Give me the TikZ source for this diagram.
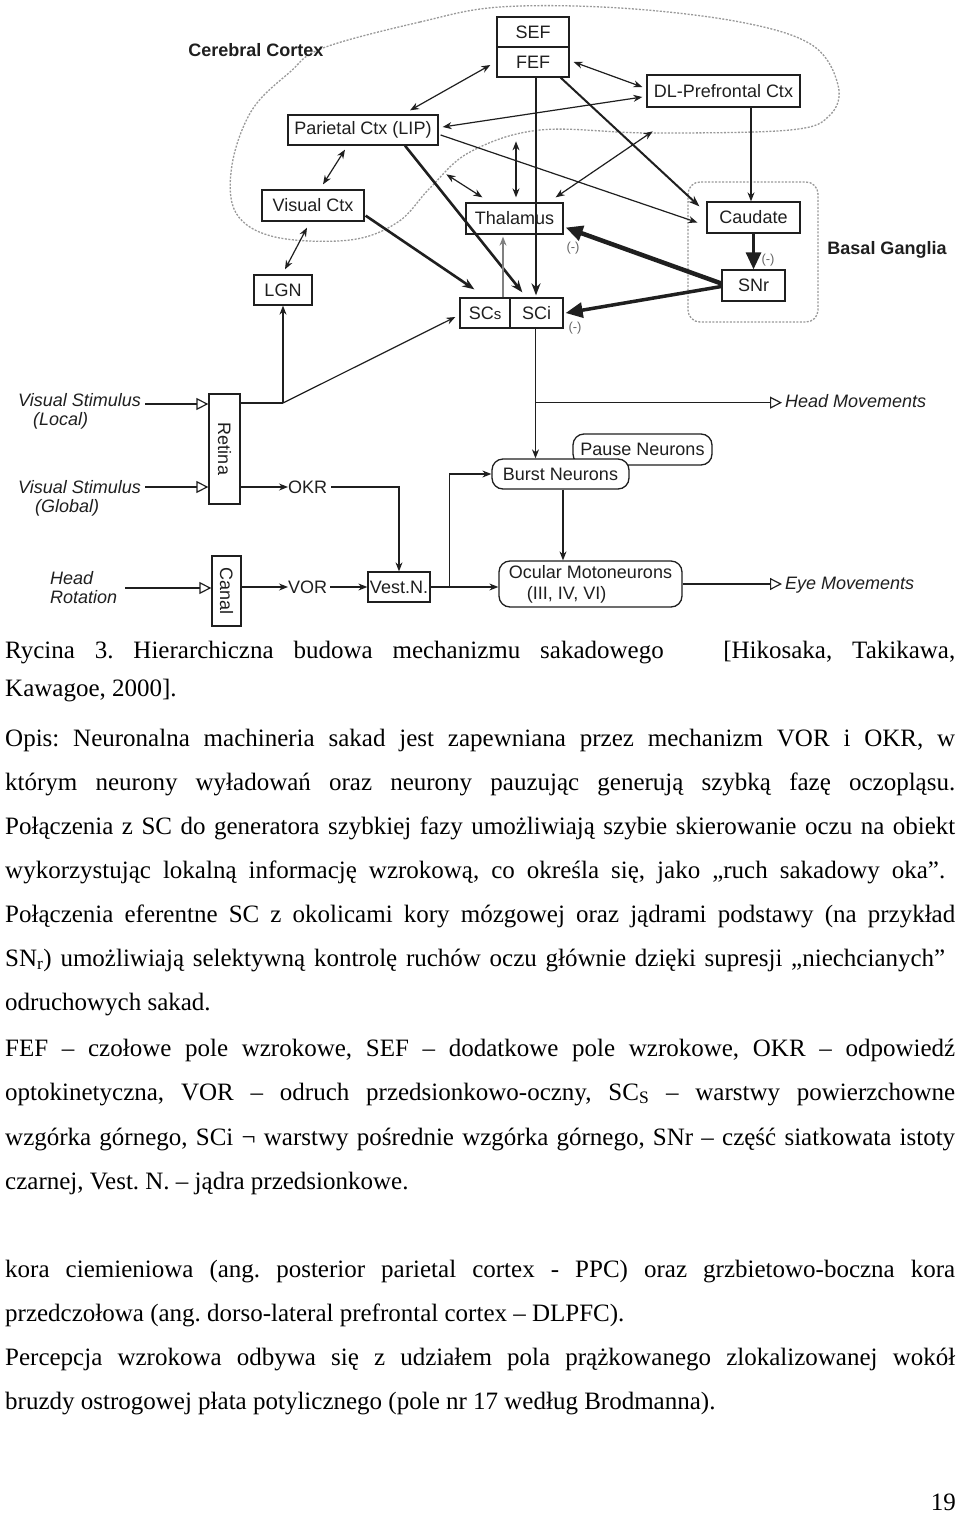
\documentclass[tikz,border=0pt]{standalone}
\usepackage{fontspec}
\setmainfont{Liberation Serif}
\newfontfamily\dfont{Liberation Sans}
\usetikzlibrary{arrows.meta,calc}
\definecolor{ink}{gray}{0.12}
\frenchspacing
\tikzset{
 box/.style={draw=ink, line width=1.3pt, fill=white, inner sep=0pt, font=\dfont\fontsize{18}{21}\selectfont, text=ink},
 rbox/.style={box, rounded corners=11pt},
 lbl/.style={font=\dfont\fontsize{18}{21}\selectfont, text=ink, inner sep=0pt},
 boldlbl/.style={font=\dfont\bfseries\fontsize{18}{21}\selectfont, text=ink, inner sep=0pt},
 ital/.style={font=\dfont\itshape\fontsize{18}{21}\selectfont, text=ink, inner sep=0pt, anchor=base west},
 minus/.style={font=\dfont\fontsize{13}{15}\selectfont, text=black!60, inner sep=0pt},
 ln/.style={draw=ink, line width=1.2pt},
 arr/.style={ln, -{Stealth[length=9pt,width=7pt]}},
 darr/.style={ln, {Stealth[length=9pt,width=7pt]}-{Stealth[length=9pt,width=7pt]}},
 tarr/.style={draw=ink, line width=2.6pt, -{Stealth[length=12pt,width=9pt]}},
 inh/.style={draw=ink, line width=#1, -{Triangle[length=17pt,width=15pt]}},
 inh/.default=4pt,
 oarr/.style={ln, -{Triangle[open,length=12pt,width=12pt,line width=1.2pt]}},
 dashline/.style={draw=black!40, line width=1.3pt, dash pattern=on 2pt off 1.5pt},
 txt/.style={font=\fontsize{25}{30}\selectfont, inner sep=0pt, anchor=base west, text=black},
}
\newcommand\jline[3]{\node[txt] (#1) at (5,#2) {\makebox[950pt][s]{#3}};}
\newcommand\lline[3]{\node[txt] (#1) at (5,#2) {#3};}
\begin{document}
\begin{tikzpicture}[x=1pt,y=-1pt]
\useasboundingbox[fill=white] (0,0) rectangle (960,1515);

% cortex outline
\draw[dashline] plot[smooth cycle, tension=0.6] coordinates {(323,48) (420,22) (500,7) (620,8) (740,22) (812,45) (838,85) (830,115) (790,130) (650,133) (540,130) (470,152) (430,188) (398,222) (350,240) (275,237) (236,213) (232,165) (252,110) (290,72)};
% basal ganglia outline
\draw[dashline, rounded corners=12pt] (688,182) rectangle (818,322);

% nodes
\node[box, minimum width=72pt, minimum height=30pt] (sef) at (533,32) {SEF};
\node[box, minimum width=72pt, minimum height=30pt] (fef) at (533,62) {FEF};
\node[box, minimum width=153pt, minimum height=32pt] (dlpfc) at (723.5,91) {DL-Prefrontal Ctx};
\node[box, minimum width=150pt, minimum height=30pt] (lip) at (363,130) {Parietal Ctx (LIP)};
\node[box, minimum width=102pt, minimum height=31pt] (vis) at (313,205.5) {Visual Ctx};
\node[box, minimum width=58pt, minimum height=30pt] (lgn) at (283,290) {LGN};
\node[box, minimum width=97pt, minimum height=31pt] (thal) at (514.5,218.5) {Thalamus};
\node[box, minimum width=93pt, minimum height=31pt] (caud) at (753.5,217.5) {Caudate};
\node[box, minimum width=63pt, minimum height=31pt] (snr) at (753.5,285.5) {SNr};
\node[box, minimum width=50pt, minimum height=30pt] (scs) at (485,313) {SC{\fontsize{15}{15}\selectfont s}};
\node[box, minimum width=53pt, minimum height=30pt] (sci) at (536.5,313) {SCi};
\node[box, minimum width=31pt, minimum height=110pt] (retina) at (224.5,449) {};
\node[lbl, rotate=-90] (retinat) at (retina.center) {Retina};
\node[box, minimum width=29pt, minimum height=70pt] (canal) at (226.5,591) {};
\node[lbl, rotate=-90] (canalt) at (canal.center) {Canal};
\node[lbl, anchor=west] (okr) at (288,487) {OKR};
\node[lbl, anchor=west] (vor) at (288,587) {VOR};
\node[box, minimum width=62pt, minimum height=30pt] (vest) at (399,587) {Vest.N.};
\node[rbox, minimum width=139pt, minimum height=31pt] (pause) at (642.5,449.5) {Pause Neurons};
\node[rbox, minimum width=137pt, minimum height=30pt] (burst) at (560.5,474) {Burst Neurons};
\node[rbox, minimum width=183pt, minimum height=46pt, align=left] (ocu) at (590.5,584) {Ocular Motoneurons\\\hspace*{18pt}(III, IV, VI)};

% labels
\node[boldlbl] (cc) at (256,50) {Cerebral Cortex};
\node[boldlbl] (bg) at (887,250) {Basal Ganglia};
\node[minus] (m1) at (573,248) {(-)};
\node[minus] (m2) at (768,260) {(-)};
\node[minus] (m3) at (575,328) {(-)};
\node[ital] (vsl1) at (18,406) {Visual Stimulus};
\node[ital] (vsl2) at (33,425) {(Local)};
\node[ital] (vsg1) at (18,493) {Visual Stimulus};
\node[ital] (vsg2) at (35,512) {(Global)};
\node[ital] (hr1) at (50,584) {Head};
\node[ital] (hr2) at (50,603) {Rotation};
\node[ital] (hm) at (785,407) {Head Movements};
\node[ital] (em) at (785,589) {Eye Movements};

% cortical connections
\draw[darr] ($(fef.west)+(-6,3)$) -- ($(lip.north)+(47,-4)$);
\draw[darr] ($(fef.east)+(4,0)$) -- ($(dlpfc.west)+(-4,-4)$);
\draw[darr] ($(lip.east)+(4,-3)$) -- ($(dlpfc.west)+(-4,6)$);
\draw[darr] ($(lip.south)+(-18,4)$) -- ($(vis.north)+(10,-5)$);
\draw[darr] ($(vis.south)+(-6,6)$) -- ($(lgn.north)+(2,-5)$);
\draw[darr] ($(thal.north west)+(-19,-28)$) -- ($(thal.north west)+(17,-5)$);
\draw[darr] ($(thal.north)+(1.5,-61)$) -- ($(thal.north)+(1.5,-5)$);
\draw[darr] ($(thal.north east)+(-8,-5)$) -- ($(thal.north east)+(89,-71)$);
\draw[arr] ($(lip.east)+(2,5)$) -- ($(caud.west)+(-9,5)$);
\draw[arr] ($(dlpfc.south)+(27.5,0)$) -- ($(caud.north)+(-2.5,0)$);
\draw[tarr] ($(vis.south east)+(1,-6)$) -- ($(scs.north west)+(15,-8)$);
\draw[tarr] ($(lip.south)+(42,0)$) -- ($(sci.north west)+(13,-5)$);
\draw[tarr] ($(fef.south)+(3,0)$) -- ($(sci.north)+(-0.5,-2)$);
\draw[draw=ink, line width=2pt, -{Stealth[length=11pt,width=8pt]}] ($(fef.south east)+(-9,0)$) -- ($(caud.north west)+(-7,5)$);
% basal ganglia
\draw[inh=3pt] (caud.south) -- (snr.north);
\draw[inh=4.5pt] ($(snr.west)+(0,-2)$) -- ($(thal.east)+(2,9)$);
\draw[inh=3.5pt] ($(snr.west)+(0,1)$) -- ($(sci.east)+(2,0)$);
\draw[draw=black!50, line width=1.2pt, -{Stealth[length=9pt,width=7pt]}] ($(scs.north)+(18,0)$) -- ($(thal.south)+(-11.5,2)$);

% brainstem
\coordinate (rj) at (283,403);
\draw[ln] ($(retina.east)+(0,-46)$) -- (rj);
\draw[arr] (rj) -- (lgn.south);
\draw[arr] (rj) -- ($(scs.west)+(-4,4)$);
\draw[arr] ($(retina.east)+(0,38)$) -- (okr.west);
\draw[arr] ($(okr.east)+(4,0)$) -| (vest.north);
\draw[arr] ($(canal.east)+(0,-4)$) -- (vor.west);
\draw[arr] ($(vor.east)+(3,0)$) -- (vest.west);
\draw[arr] (vest.east) -- (vest.east -| ocu.west);
\coordinate (vj) at ($(vest.east)+(19,0)$);
\draw[arr] (vj) |- (burst.west);
\coordinate (sb) at ($(sci.south)+(-1,0)$);
\draw[arr] (sb) -- (sb |- burst.north);
\coordinate (hj) at ($(sb)+(0,74)$);
\coordinate (hmt) at ($(hm.west)+(-3,0)$);
\draw[oarr] (hj) -- (hj -| hmt);
\draw[arr] ($(burst.south)+(2.5,0)$) -- ($(ocu.north)+(-27.5,0)$);
\coordinate (emt) at ($(em.west)+(-3,0)$);
\draw[oarr] (ocu.east) -- (ocu.east -| emt);
\coordinate (s1) at (145,404);
\coordinate (s2) at (145,487);
\coordinate (s3) at (125,588);
\draw[oarr] (s1) -- (s1 -| retina.west);
\draw[oarr] (s2) -- (s2 -| retina.west);
\draw[oarr] (s3) -- (s3 -| canal.west);

% text
\jline{t1}{658}{Rycina 3. Hierarchiczna budowa mechanizmu sakadowego\ \ \ [Hikosaka, Takikawa,}
\lline{t2}{696}{Kawagoe, 2000].}
\jline{t3}{746}{Opis: Neuronalna machineria sakad jest zapewniana przez mechanizm VOR i OKR, w}
\jline{t4}{790}{którym neurony wyładowań oraz neurony pauzując generują szybką fazę oczopląsu.}
\jline{t5}{834}{Połączenia z SC do generatora szybkiej fazy umożliwiają szybie skierowanie oczu na obiekt}
\node[txt] (t6) at (5,878) {\makebox[940pt][s]{wykorzystując lokalną informację wzrokową, co określa się, jako „ruch sakadowy oka”.}};
\jline{t7}{922}{Połączenia eferentne SC z okolicami kory mózgowej oraz jądrami podstawy (na przykład}
\node[txt] (t8) at (5,966) {\makebox[940pt][s]{SN\textsubscript{r}) umożliwiają selektywną kontrolę ruchów oczu głównie dzięki supresji „niechcianych”}};
\lline{t9}{1010}{odruchowych sakad.}
\jline{t10}{1056}{FEF – czołowe pole wzrokowe, SEF – dodatkowe pole wzrokowe, OKR – odpowiedź}
\jline{t11}{1100}{optokinetyczna, VOR – odruch przedsionkowo-oczny, SC\textsubscript{S} – warstwy powierzchowne}
\jline{t12}{1145}{wzgórka górnego, SCi ¬ warstwy pośrednie wzgórka górnego, SNr – część siatkowata istoty}
\lline{t13}{1189}{czarnej, Vest. N. – jądra przedsionkowe.}
\jline{t14}{1277}{kora ciemieniowa (ang. posterior parietal cortex - PPC) oraz grzbietowo-boczna kora}
\lline{t15}{1321}{przedczołowa (ang. dorso-lateral prefrontal cortex – DLPFC).}
\jline{t16}{1365}{Percepcja wzrokowa odbywa się z udziałem pola prążkowanego zlokalizowanej wokół}
\lline{t17}{1409}{bruzdy ostrogowej płata potylicznego (pole nr 17 według Brodmanna).}
\node[txt, anchor=base east] (pg) at (956,1510) {19};
\end{tikzpicture}
\end{document}
